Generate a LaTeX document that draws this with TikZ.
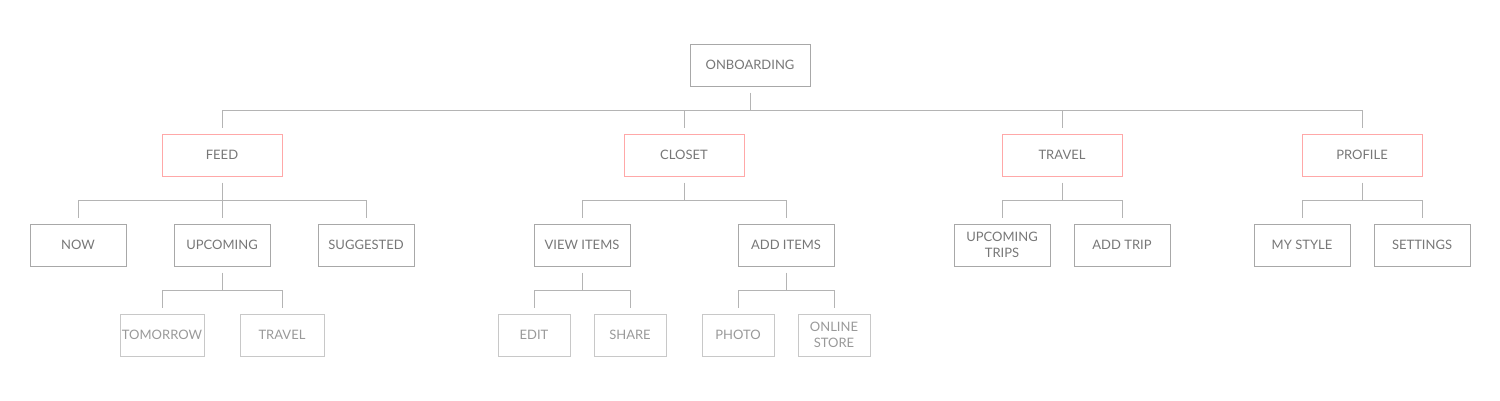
\documentclass[tikz,border=0pt]{standalone}
\usepackage{fontspec}
\setmainfont{Lato}
\definecolor{txtA}{HTML}{777777}
\definecolor{txtB}{HTML}{999999}
\definecolor{boxA}{HTML}{A8A8A8}
\definecolor{boxB}{HTML}{C8C8C8}
\definecolor{boxR}{HTML}{FFA8A8}
\definecolor{lineC}{HTML}{B4B4B4}
\begin{document}
\begin{tikzpicture}[x=1pt,y=-1pt,
  base/.style={rectangle,inner sep=0pt,minimum height=42pt,line width=1pt,align=center,
    font=\fontsize{13}{15.5}\selectfont},
  topbox/.style={base,draw=boxA,text=txtA,minimum width=120pt},
  secbox/.style={base,draw=boxR,text=txtA,minimum width=120pt},
  midbox/.style={base,draw=boxA,text=txtA,minimum width=96pt},
  leafbox/.style={base,draw=boxB,text=txtB,minimum width=#1},
  leafbox/.default=72pt,
  conn/.style={draw=lineC,line width=1pt}]
\useasboundingbox (0,0) rectangle (1500,400);
% level 0
\node[topbox] (onb) at (750,65) {ONBOARDING};
% level 1
\node[secbox] (feed) at (222,155) {FEED};
\node[secbox] (closet) at (684,155) {CLOSET};
\node[secbox] (travel) at (1062,155) {TRAVEL};
\node[secbox] (profile) at (1362,155) {PROFILE};
% level 2
\node[midbox] (now) at (78,245) {NOW};
\node[midbox] (upcoming) at (222,245) {UPCOMING};
\node[midbox] (suggested) at (366,245) {SUGGESTED};
\node[midbox] (view) at (582,245) {VIEW ITEMS};
\node[midbox] (add) at (786,245) {ADD ITEMS};
\node[midbox] (uptrips) at (1002,245) {UPCOMING\\TRIPS};
\node[midbox] (addtrip) at (1122,245) {ADD TRIP};
\node[midbox] (mystyle) at (1302,245) {MY STYLE};
\node[midbox] (settings) at (1422,245) {SETTINGS};
% level 3
\node[leafbox=84pt] (tomorrow) at (162,335) {TOMORROW};
\node[leafbox=84pt] (travel2) at (282,335) {TRAVEL};
\node[leafbox] (edit) at (534,335) {EDIT};
\node[leafbox] (share) at (630,335) {SHARE};
\node[leafbox] (photo) at (738,335) {PHOTO};
\node[leafbox] (online) at (834,335) {ONLINE\\STORE};
% buses
\coordinate (b0) at (750,110);
\coordinate (b1) at (222,200);
\coordinate (b2) at (684,200);
\coordinate (b3) at (1062,200);
\coordinate (b4) at (1362,200);
\coordinate (b5) at (222,290);
\coordinate (b6) at (582,290);
\coordinate (b7) at (786,290);
% level 0 -> 1
\draw[conn] ([yshift=-6pt]onb.south) -- (b0);
\draw[conn] (feed.north |- b0) -- (profile.north |- b0);
\foreach \n in {feed,closet,travel,profile}
  \draw[conn] (\n.north |- b0) -- ([yshift=6pt]\n.north);
% feed
\draw[conn] ([yshift=-6pt]feed.south) -- (b1);
\draw[conn] (now.north |- b1) -- (suggested.north |- b1);
\foreach \n in {now,upcoming,suggested}
  \draw[conn] (\n.north |- b1) -- ([yshift=6pt]\n.north);
% closet
\draw[conn] ([yshift=-6pt]closet.south) -- (b2);
\draw[conn] (view.north |- b2) -- (add.north |- b2);
\foreach \n in {view,add}
  \draw[conn] (\n.north |- b2) -- ([yshift=6pt]\n.north);
% travel
\draw[conn] ([yshift=-6pt]travel.south) -- (b3);
\draw[conn] (uptrips.north |- b3) -- (addtrip.north |- b3);
\foreach \n in {uptrips,addtrip}
  \draw[conn] (\n.north |- b3) -- ([yshift=6pt]\n.north);
% profile
\draw[conn] ([yshift=-6pt]profile.south) -- (b4);
\draw[conn] (mystyle.north |- b4) -- (settings.north |- b4);
\foreach \n in {mystyle,settings}
  \draw[conn] (\n.north |- b4) -- ([yshift=6pt]\n.north);
% upcoming
\draw[conn] ([yshift=-6pt]upcoming.south) -- (b5);
\draw[conn] (tomorrow.north |- b5) -- (travel2.north |- b5);
\foreach \n in {tomorrow,travel2}
  \draw[conn] (\n.north |- b5) -- ([yshift=6pt]\n.north);
% view items
\draw[conn] ([yshift=-6pt]view.south) -- (b6);
\draw[conn] (edit.north |- b6) -- (share.north |- b6);
\foreach \n in {edit,share}
  \draw[conn] (\n.north |- b6) -- ([yshift=6pt]\n.north);
% add items
\draw[conn] ([yshift=-6pt]add.south) -- (b7);
\draw[conn] (photo.north |- b7) -- (online.north |- b7);
\foreach \n in {photo,online}
  \draw[conn] (\n.north |- b7) -- ([yshift=6pt]\n.north);
\end{tikzpicture}
\end{document}
